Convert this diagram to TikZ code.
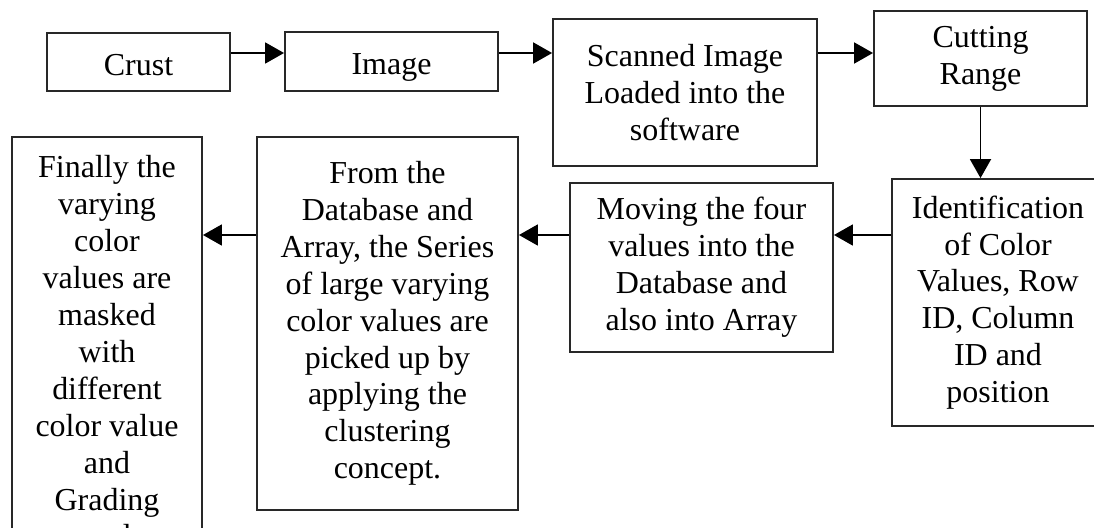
\documentclass[tikz,border=0pt]{standalone}
\usepackage{fontspec}
\setmainfont{Liberation Serif}
\definecolor{boxline}{RGB}{40,40,40}
\usetikzlibrary{arrows.meta}

\begin{document}
\begin{tikzpicture}[x=0.02cm, y=-0.02cm,
  box/.style={draw=boxline, line width=1.1pt, align=center, inner sep=0pt,
    font=\fontsize{18.2pt}{21pt}\selectfont},
  oneline/.style={text height=18pt, text depth=3.2pt},
  flow/.style={line width=1.1pt, -{Triangle[length=3.8mm, width=4.2mm]}}]
  \clip (0,0) rectangle (1094,527);

  % top row:
  \node [box, oneline, minimum width=3.66cm, minimum height=1.16cm] (crust) at (138.5,62) {Crust};
  \node [box, oneline, minimum width=4.26cm, minimum height=1.18cm] (image) at (391.5,61.5) {Image};
  \node [box, minimum width=5.28cm, minimum height=2.94cm] (scanned) at (685,92.5)
    {Scanned Image\\Loaded into the\\software};
  \node [box, minimum width=4.26cm, minimum height=1.90cm] (cutting) at (980.5,58.5)
    {Cutting\\Range};

  % lower row:
  \node [box, minimum width=4.24cm, minimum height=4.94cm] (ident) at (998,302.5)
    {Identification\\of Color\\Values, Row\\ID, Column\\ID and\\position};
  \node [box, minimum width=5.26cm, minimum height=3.38cm] (moving) at (701.5,267.5)
    {Moving the four\\values into the\\Database and\\also into Array};
  \node [box, minimum width=5.22cm, minimum height=7.46cm] (fromdb) at (387.5,323.5)
    {From the\\Database and\\Array, the Series\\of large varying\\color values are\\picked up by\\applying the\\clustering\\concept.};
  \node [box, minimum width=3.80cm, minimum height=8.58cm] (finally) at (107,351.5)
    {Finally the\\varying\\color\\values are\\masked\\with\\different\\color value\\and\\Grading\\tool};

  \coordinate (toprow) at (0,53);
  \coordinate (lowrow) at (0,235);

  % left to right:
  \draw [flow] (crust.east |- toprow) -- (image.west |- toprow);
  \draw [flow] (image.east |- toprow) -- (scanned.west |- toprow);
  \draw [flow] (scanned.east |- toprow) -- (cutting.west |- toprow);

  % down:
  \draw [flow] (cutting.south) -- (cutting.south |- ident.north);

  % right to left:
  \draw [flow] (ident.west |- lowrow) -- (moving.east |- lowrow);
  \draw [flow] (moving.west |- lowrow) -- (fromdb.east |- lowrow);
  \draw [flow] (fromdb.west |- lowrow) -- (finally.east |- lowrow);
\end{tikzpicture}
\end{document}
